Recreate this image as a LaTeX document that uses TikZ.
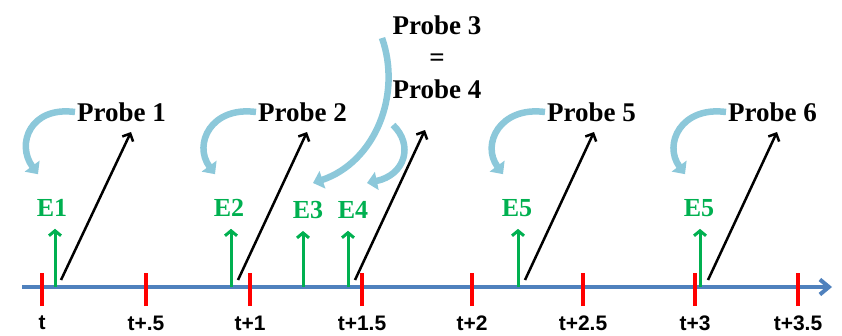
\documentclass[tikz,border=0pt]{standalone}
\usepackage{fontspec}
\setmainfont{Liberation Serif}
\setsansfont{Liberation Sans}
\usetikzlibrary{arrows.meta}

\definecolor{axisblue}{RGB}{79,129,189}
\definecolor{tickred}{RGB}{255,0,0}
\definecolor{egreen}{RGB}{0,176,80}
\definecolor{curvblue}{RGB}{140,200,218}

\begin{document}
\begin{tikzpicture}[x=1pt,y=-1pt,
    every node/.style={inner sep=0pt},
    timeaxis/.style={line width=4pt,color=axisblue,-{Straight Barb[length=9pt,width=15pt,line width=4pt]}},
    tick/.style={line width=3.5pt,color=tickred},
    tlabel/.style={font=\sffamily\bfseries\fontsize{21}{24}\selectfont},
    elabel/.style={font=\bfseries\fontsize{26}{28}\selectfont,text=egreen},
    plabel/.style={font=\bfseries\fontsize{27}{32}\selectfont,align=center},
    garrow/.style={line width=3pt,color=egreen,-{Straight Barb[length=5pt,width=12pt,line width=3pt]}},
    parrow/.style={line width=2.5pt,-{Straight Barb[length=6pt,width=12pt,line width=2.5pt]}},
    curv/.style={line width=6.5pt,color=curvblue,-{Triangle[length=10pt,width=18pt]}}
]

\useasboundingbox (0,0) rectangle (842,335);

% time axis
\coordinate (ax0) at (22,287);
\coordinate (ax1) at (832,287);
\draw[timeaxis] (ax0) -- (ax1);

\foreach \x/\lab [count=\i] in {42/t,146/t+.5,250/t+1,362/t+1.5,472/t+2,583/t+2.5,695/t+3,798/t+3.5}{
  \coordinate (k\i) at (\x,287);
  \draw[tick] ([yshift=-19pt]k\i) -- ([yshift=14pt]k\i);
  \node[tlabel] (tl\i) at (\x,323) {\lab};
}

% events
\node[elabel] (e1) at (52,208) {E1};
\node[elabel] (e2) at (229,208) {E2};
\node[elabel] (e3) at (308,210) {E3};
\node[elabel] (e4) at (353,210) {E4};
\node[elabel] (e5) at (517,208) {E5};
\node[elabel] (e6) at (699,208) {E5};

\foreach \x/\e [count=\i] in {55/e1,231/e2,303/e3,348/e4,518/e5,700/e6}{
  \coordinate (g\i) at (\x,287);
  \draw[garrow] (g\i) -- ([yshift=-12pt]g\i |- \e.south);
}

% probes
\node[plabel,anchor=west] (probe1) at (77,112) {Probe 1};
\node[plabel,anchor=west] (probe2) at (258,112) {Probe 2};
\node[plabel] (probe34) at (437,57) {Probe 3\\=\\Probe 4};
\node[plabel,anchor=west] (probe5) at (547,112) {Probe 5};
\node[plabel,anchor=west] (probe6) at (728,112) {Probe 6};

\coordinate (b1) at (61,280);   \coordinate (p1) at (131,132);
\coordinate (b2) at (238,280);  \coordinate (p2) at (307,132);
\coordinate (b3) at (355,280);  \coordinate (p3) at (425,130);
\coordinate (b4) at (525,280);  \coordinate (p4) at (594,132);
\coordinate (b5) at (708,280);  \coordinate (p5) at (777,132);

\foreach \i in {1,...,5}
  \draw[parrow] (b\i) -- (p\i);

% curved arrows from probes to events
\foreach \p/\e in {probe1/e1,probe2/e2,probe5/e5,probe6/e6}{
  \coordinate (s) at ([xshift=-2pt]\p.west);
  \coordinate (f) at ([xshift=-14pt,yshift=25pt]\e.north);
  \draw[curv] (s) .. controls +(-45,-6) and +(-22,-30) .. (f);
}

\coordinate (s3) at (382,38);   \coordinate (f3) at (313,183);
\coordinate (s4) at (393,125);  \coordinate (f4) at (367,183);
\draw[curv] (s3) .. controls (402,95) and (375,162) .. (f3);
\draw[curv] (s4) .. controls (414,145) and (405,175) .. (f4);

\end{tikzpicture}
\end{document}
